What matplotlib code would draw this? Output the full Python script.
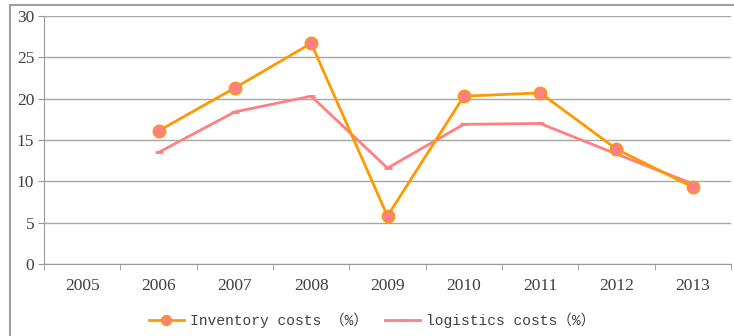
import numpy as np
import matplotlib
matplotlib.use("Agg")
import matplotlib.pyplot as plt
from matplotlib.lines import Line2D

years = ["2005", "2006", "2007", "2008", "2009", "2010", "2011", "2012", "2013"]
inventory = [np.nan, 16.1, 21.3, 26.7, 5.8, 20.3, 20.7, 13.9, 9.3]
logistics = [np.nan, 13.5, 18.4, 20.3, 11.6, 16.9, 17.0, 13.3, 9.7]

serif = ["Liberation Serif", "Noto Sans CJK SC"]
mono = ["Liberation Mono", "Noto Sans CJK SC"]

fig = plt.figure(figsize=(7.34, 3.36), dpi=100)
ax = fig.add_axes([44 / 734, 1 - 264 / 336, 687 / 734, 248 / 336])

# outer chart frame (only the left and top edges are visible)
fig.add_artist(Line2D([10 / 734, 10 / 734], [0, 1 - 5 / 336], transform=fig.transFigure,
                      color="#a0a0a0", lw=1.5))
fig.add_artist(Line2D([10 / 734, 1], [1 - 5 / 336, 1 - 5 / 336], transform=fig.transFigure,
                      color="#a0a0a0", lw=1.5))

x = np.arange(len(years))
ax.plot(x, inventory, color="#ff9900", lw=2, marker="o", ms=9,
        mfc="#ff8080", mec="#ff9900", mew=1, label="Inventory costs （%）", zorder=3)
ax.plot(x, logistics, color="#ff8080", lw=2, marker="_", ms=6, mew=2,
        label="logistics costs（%）", zorder=2)

ax.set_xlim(-0.5, len(years) - 0.5)
ax.set_ylim(0, 30)
ax.set_yticks(range(0, 31, 5))
ax.set_xticks(x)
ax.set_xticklabels(years, family=serif, fontsize=12.5, color="#404040")
ax.set_yticklabels([str(v) for v in range(0, 31, 5)], family=serif, fontsize=12.5, color="#404040")
ax.set_xticks(np.arange(-0.5, len(years), 1), minor=True)
ax.tick_params(axis="x", which="major", length=0, pad=10)
ax.tick_params(axis="x", which="minor", length=4, color="#999999")
ax.tick_params(axis="y", length=4, color="#999999", pad=3)

ax.grid(axis="y", color="#a6a6a6", lw=1)
ax.set_axisbelow(True)
for side in ["top", "right"]:
    ax.spines[side].set_visible(False)
for side in ["left", "bottom"]:
    ax.spines[side].set_color("#999999")

leg = fig.legend(loc="center", bbox_to_anchor=(372 / 734, 1 - 320 / 336), ncol=2,
                 frameon=False, prop={"family": mono, "size": 10.5},
                 handlelength=2.4, columnspacing=1.2, handletextpad=0.4,
                 markerscale=0.8)
for t in leg.get_texts():
    t.set_color("#404040")

fig.savefig("out.png", dpi=100)
